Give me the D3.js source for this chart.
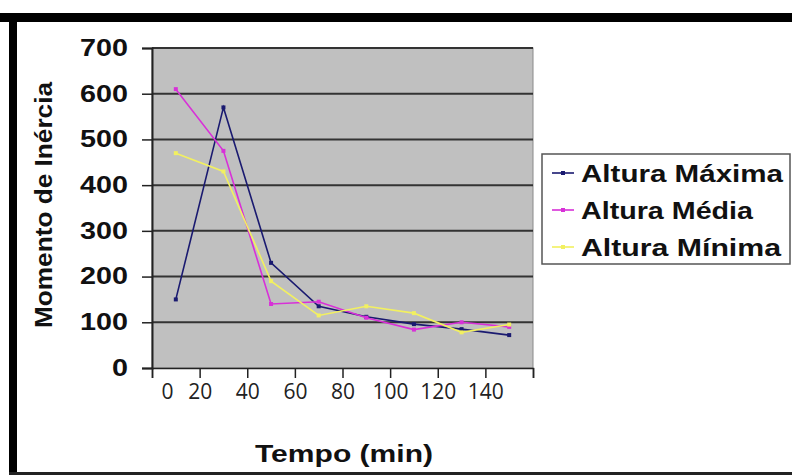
<!DOCTYPE html>
<html>
<head>
<meta charset="utf-8">
<script src="https://cdn.jsdelivr.net/npm/d3@7"></script>
<style>
  body { margin: 0; background: #fff; }
  svg { display: block; font-family: "Liberation Sans", Arial, sans-serif; }
</style>
</head>
<body>
<div id="chart"></div>
<script>
// dados
var tempos = [10, 30, 50, 70, 90, 110, 130, 150];
var alturaMaxima = [150, 570, 230, 135, 112, 96, 85, 72];
var alturaMedia  = [610, 475, 140, 145, 110, 84, 100, 90];
var alturaMinima = [470, 430, 190, 115, 135, 120, 78, 95];
var nomesSeries = ["Altura Máxima", "Altura Média", "Altura Mínima"];
var coresSeries = ["#1a1a70", "#d830d8", "#f2f060"];
var yTicks = [0, 100, 200, 300, 400, 500, 600, 700];
var xTicks = [0, 20, 40, 60, 80, 100, 120, 140, 160];

var series = [alturaMaxima, alturaMedia, alturaMinima];

var W = 792, H = 475;
var margin = {top: 48, right: 259, bottom: 107, left: 152};
var width = W - margin.left - margin.right,
    height = H - margin.top - margin.bottom;

var svgRoot = d3.select("#chart").append("svg")
  .attr("width", W).attr("height", H);

// moldura preta
svgRoot.append("rect").attr("x", 0).attr("y", 13).attr("width", W).attr("height", 9).attr("fill", "#000");
svgRoot.append("rect").attr("x", 9).attr("y", 13).attr("width", 8).attr("height", H - 13).attr("fill", "#000");
svgRoot.append("rect").attr("x", 9).attr("y", 472).attr("width", W).attr("height", 3).attr("fill", "#222");

var svg = svgRoot.append("g")
  .attr("transform", "translate(" + margin.left + "," + margin.top + ")");

var x = d3.scaleLinear().domain([0, 160]).range([0, width]);
var y = d3.scaleLinear().domain([0, 700]).range([height, 0]);

// fundo cinza
svg.append("rect")
  .attr("width", width).attr("height", height)
  .attr("fill", "#c0c0c0")
  .attr("stroke", "#8a8a8a").attr("stroke-width", 1);

// linhas de grade
svg.selectAll(".grid").data(yTicks.slice(1)).enter().append("line")
  .attr("x1", 0).attr("x2", width)
  .attr("y1", function(d) { return y(d); })
  .attr("y2", function(d) { return y(d); })
  .attr("stroke", "#333").attr("stroke-width", 2);

// eixo Y
var yAxis = svg.append("g")
  .call(d3.axisLeft(y).tickValues(yTicks).tickSize(10).tickPadding(14));
yAxis.selectAll("text")
  .attr("font-size", 23).attr("font-weight", "bold").attr("fill", "#111")
  .attr("transform", "scale(1.25,1)")
  .attr("x", -24 / 1.25);
yAxis.selectAll("line").attr("stroke", "#222").attr("stroke-width", 1.5);
yAxis.select(".domain").attr("stroke", "#222").attr("stroke-width", 2);

// eixo X
var xAxis = svg.append("g")
  .attr("transform", "translate(0," + height + ")")
  .call(d3.axisBottom(x).tickValues(xTicks).tickSize(10).tickPadding(6)
    .tickFormat(function(d) { return d == 160 ? "" : d; }));
xAxis.selectAll("text")
  .attr("font-size", 21).attr("fill", "#222")
  .attr("font-family", "'Open Sans', 'Liberation Sans', sans-serif")
  .attr("dx", function(d) { return d == 0 ? 15 : 0; });
xAxis.selectAll("line").attr("stroke", "#222").attr("stroke-width", 1.5);
xAxis.select(".domain").attr("stroke", "#222").attr("stroke-width", 1.5);

// linhas das séries
var line = d3.line()
  .x(function(d, i) { return x(tempos[i]); })
  .y(function(d) { return y(d); });

series.forEach(function(s, k) {
  svg.append("path").datum(s)
    .attr("d", line)
    .attr("fill", "none")
    .attr("stroke", coresSeries[k])
    .attr("stroke-width", 1.6);
  svg.selectAll(".pt" + k).data(s).enter().append("rect")
    .attr("x", function(d, i) { return x(tempos[i]) - 2; })
    .attr("y", function(d) { return y(d) - 2; })
    .attr("width", 4).attr("height", 4)
    .attr("fill", coresSeries[k]);
});

// títulos dos eixos
svgRoot.append("text")
  .attr("x", 344).attr("y", 462)
  .attr("text-anchor", "middle")
  .attr("font-size", 23).attr("font-weight", "bold").attr("fill", "#111")
  .attr("textLength", 178).attr("lengthAdjust", "spacingAndGlyphs")
  .text("Tempo (min)");

svgRoot.append("text")
  .attr("transform", "translate(52,205) rotate(-90)")
  .attr("text-anchor", "middle")
  .attr("font-size", 23).attr("font-weight", "bold").attr("fill", "#111")
  .attr("textLength", 246).attr("lengthAdjust", "spacingAndGlyphs")
  .text("Momento de Inércia");

// legenda
var leg = svgRoot.append("g");
leg.append("rect")
  .attr("x", 542).attr("y", 154).attr("width", 248).attr("height", 110)
  .attr("fill", "#fff").attr("stroke", "#555").attr("stroke-width", 1.5);

var larguras = [202, 172, 200];
nomesSeries.forEach(function(nome, k) {
  var cy = 173 + k * 37;
  leg.append("line")
    .attr("x1", 552).attr("x2", 574).attr("y1", cy).attr("y2", cy)
    .attr("stroke", coresSeries[k]).attr("stroke-width", 1.6);
  leg.append("rect")
    .attr("x", 561).attr("y", cy - 2).attr("width", 4).attr("height", 4)
    .attr("fill", coresSeries[k]);
  leg.append("text")
    .attr("x", 581).attr("y", cy + 9)
    .attr("font-size", 24).attr("font-weight", "bold").attr("fill", "#111")
    .attr("textLength", larguras[k]).attr("lengthAdjust", "spacingAndGlyphs")
    .text(nome);
});
</script>
</body>
</html>
